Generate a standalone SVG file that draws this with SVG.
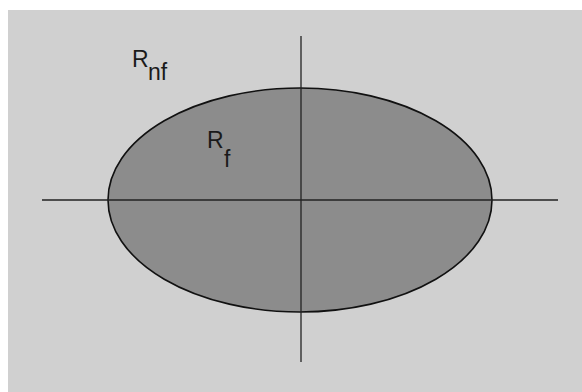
<svg xmlns="http://www.w3.org/2000/svg" width="582" height="392" viewBox="0 0 582 392">
<style>
.lbl{font-family:"Liberation Sans",Arial,sans-serif;font-size:23px;fill:#1a1a1a}
.axis{stroke:#222;stroke-width:1.3;fill:none}
</style>
<rect x="0" y="0" width="582" height="392" fill="#ffffff"/>
<rect x="8" y="10" width="574" height="382" fill="#d0d0d0"/>
<g id="region-f">
<ellipse cx="300" cy="200" rx="192" ry="112" fill="#8c8c8c" stroke="#111" stroke-width="1.6"/>
</g>
<g id="axes">
<line class="axis" x1="42" y1="200" x2="558" y2="200"/>
<line class="axis" x1="301" y1="36" x2="301" y2="362"/>
</g>
<g id="label-rnf">
<text class="lbl" x="132" y="67">R</text>
<text class="lbl" x="148" y="80">nf</text>
</g>
<g id="label-rf">
<text class="lbl" x="207" y="148">R</text>
<text class="lbl" x="224" y="167">f</text>
</g>
</svg>
